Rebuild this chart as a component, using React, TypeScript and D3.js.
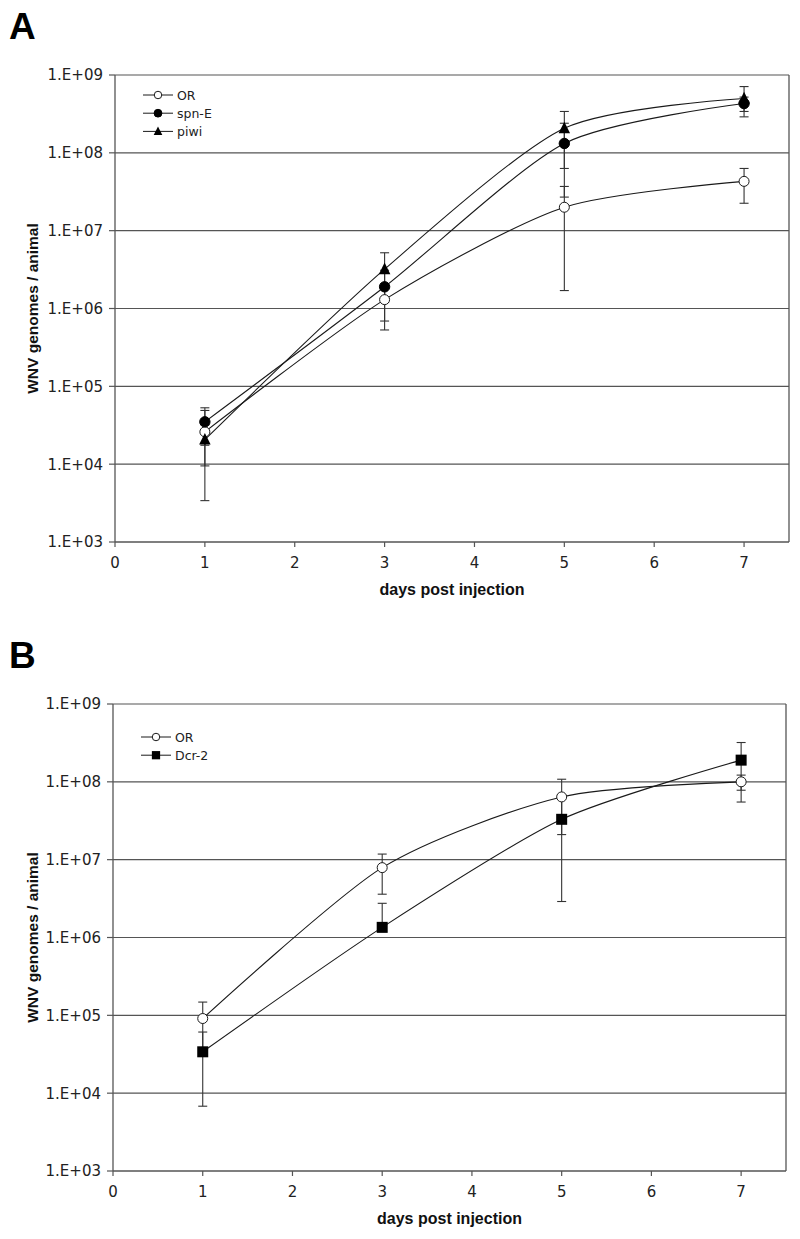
import React from "react";
import * as d3 from "d3";

const days = [1, 3, 5, 7];
const xTicks = [0, 1, 2, 3, 4, 5, 6, 7];
const yTicks = [1e3, 1e4, 1e5, 1e6, 1e7, 1e8, 1e9];
const yTickLabels = ["1.E+03", "1.E+04", "1.E+05", "1.E+06", "1.E+07", "1.E+08", "1.E+09"];

// Panel A
const orA = [2.6e4, 1.3e6, 2.0e7, 4.3e7];
const orALo = [3.4e3, 5.3e5, 1.7e6, 2.25e7];
const orAHi = [4.9e4, 2.07e6, 3.7e7, 6.3e7];
const spnE = [3.5e4, 1.9e6, 1.32e8, 4.3e8];
const spnELo = [1.75e4, 6.9e5, 2.7e7, 3.4e8];
const spnEHi = [5.3e4, 3.1e6, 2.4e8, 5.2e8];
const piwi = [2.07e4, 3.2e6, 2.07e8, 5.0e8];
const piwiLo = [9.5e3, 1.2e6, 6.3e7, 2.9e8];
const piwiHi = [3.2e4, 5.2e6, 3.4e8, 7.1e8];

// Panel B
const orB = [9.1e4, 7.9e6, 6.4e7, 1.0e8];
const orBLo = [3.4e4, 3.6e6, 2.1e7, 7.8e7];
const orBHi = [1.48e5, 1.18e7, 1.08e8, 1.22e8];
const dcr2 = [3.4e4, 1.35e6, 3.3e7, 1.9e8];
const dcr2Lo = [6.8e3, 1.35e6, 2.9e6, 5.5e7];
const dcr2Hi = [6.1e4, 2.75e6, 6.3e7, 3.2e8];

type Series = { name: string; marker: string; values: number[]; lo: number[]; hi: number[] };

const panelA: Series[] = [
  { name: "OR", marker: "openCircle", values: orA, lo: orALo, hi: orAHi },
  { name: "spn-E", marker: "circle", values: spnE, lo: spnELo, hi: spnEHi },
  { name: "piwi", marker: "triangle", values: piwi, lo: piwiLo, hi: piwiHi },
];
const panelB: Series[] = [
  { name: "OR", marker: "openCircle", values: orB, lo: orBLo, hi: orBHi },
  { name: "Dcr-2", marker: "square", values: dcr2, lo: dcr2Lo, hi: dcr2Hi },
];

const INK = "#1a1a1a";
const GRID = "#555";

function Marker({ type, x, y, s = 1 }: { type: string; x: number; y: number; s?: number }) {
  if (type === "openCircle")
    return <circle cx={x} cy={y} r={5 * s} fill="#fff" stroke={INK} strokeWidth={1} />;
  if (type === "circle") return <circle cx={x} cy={y} r={5.2 * s} fill="#000" stroke="#000" />;
  if (type === "square")
    return <rect x={x - 5.5 * s} y={y - 5.5 * s} width={11 * s} height={11 * s} fill="#000" />;
  const h = 11 * s;
  const w = 11.5 * s;
  return (
    <path
      d={`M${x},${y - h * 0.6}L${x + w / 2},${y + h * 0.45}L${x - w / 2},${y + h * 0.45}Z`}
      fill="#000"
    />
  );
}

function Panel({
  series,
  left,
  right,
  top,
  bottom,
  letter,
  letterY,
  legendY,
}: {
  series: Series[];
  left: number;
  right: number;
  top: number;
  bottom: number;
  letter: string;
  letterY: number;
  legendY: number;
}) {
  const x = d3.scaleLinear().domain([0, 7.5]).range([left, right]);
  const y = d3.scaleLog().domain([1e3, 1e9]).range([bottom, top]);
  const line = d3
    .line<number>()
    .x((_, i) => x(days[i]))
    .y((v) => y(v))
    .curve(d3.curveCardinal.tension(0.25));
  const font = "'DejaVu Sans', Verdana, sans-serif";
  const bold = "'Liberation Sans', Arial, sans-serif";
  return (
    <g>
      <text x={9} y={letterY} fontFamily={bold} fontWeight="bold" fontSize={37} fill="#000">
        {letter}
      </text>
      {yTicks.map((t, i) => (
        <g key={t}>
          {i > 0 && (
            <line x1={left} x2={right} y1={y(t)} y2={y(t)} stroke={GRID} strokeWidth={1.2} />
          )}
          <line x1={left - 6} x2={left} y1={y(t)} y2={y(t)} stroke={GRID} strokeWidth={1.2} />
          <text
            x={left - 12}
            y={y(t)}
            dy="0.36em"
            textAnchor="end"
            fontFamily={font}
            fontSize={15}
            fill="#222"
          >
            {yTickLabels[i]}
          </text>
        </g>
      ))}
      <line x1={left} x2={left} y1={top} y2={bottom} stroke={GRID} strokeWidth={1.3} />
      <line x1={right} x2={right} y1={top} y2={bottom} stroke={GRID} strokeWidth={1.3} />
      <line x1={left} x2={right} y1={bottom} y2={bottom} stroke={GRID} strokeWidth={1.3} />
      {xTicks.map((t) => (
        <g key={t}>
          <line x1={x(t)} x2={x(t)} y1={bottom} y2={bottom + 5} stroke={GRID} strokeWidth={1.2} />
          <text
            x={x(t)}
            y={bottom + 26}
            textAnchor="middle"
            fontFamily={font}
            fontSize={15}
            fill="#222"
          >
            {t}
          </text>
        </g>
      ))}
      <text
        x={(left + right) / 2}
        y={bottom + 53}
        textAnchor="middle"
        fontFamily={bold}
        fontWeight="bold"
        fontSize={16}
        fill="#111"
      >
        days post injection
      </text>
      <text
        transform={`translate(${38},${(top + bottom) / 2}) rotate(-90)`}
        textAnchor="middle"
        fontFamily={bold}
        fontWeight="bold"
        fontSize={15.5}
        fill="#111"
      >
        WNV genomes / animal
      </text>
      {series.map((s) =>
        s.values.map((v, i) => {
          const cx = x(days[i]);
          return (
            <g key={s.name + i} stroke="#333" strokeWidth={1.1}>
              <line x1={cx} x2={cx} y1={y(s.hi[i])} y2={y(s.lo[i])} />
              {s.hi[i] > v && <line x1={cx - 4.5} x2={cx + 4.5} y1={y(s.hi[i])} y2={y(s.hi[i])} />}
              {s.lo[i] < v && <line x1={cx - 4.5} x2={cx + 4.5} y1={y(s.lo[i])} y2={y(s.lo[i])} />}
            </g>
          );
        })
      )}
      {series.map((s) => (
        <path key={s.name} d={line(s.values) || ""} fill="none" stroke={INK} strokeWidth={1.1} />
      ))}
      {series.map((s) =>
        s.values.map((v, i) => <Marker key={s.name + i} type={s.marker} x={x(days[i])} y={y(v)} />)
      )}
      {series.map((s, i) => {
        const ly = legendY + i * 18.2;
        const lx = left + 28;
        return (
          <g key={s.name}>
            <line x1={lx} x2={lx + 30} y1={ly} y2={ly} stroke={INK} strokeWidth={1} />
            <Marker type={s.marker} x={lx + 15} y={ly} s={0.75} />
            <text x={lx + 34} y={ly} dy="0.36em" fontFamily={font} fontSize={12.5} fill="#222">
              {s.name}
            </text>
          </g>
        );
      })}
    </g>
  );
}

export default function App() {
  return (
    <svg width={800} height={1239} style={{ position: "absolute", left: 0, top: 0 }}>
      <rect width={800} height={1239} fill="#fff" />
      <Panel
        series={panelA}
        left={115}
        right={789}
        top={75}
        bottom={542}
        letter="A"
        letterY={39}
        legendY={95}
      />
      <Panel
        series={panelB}
        left={113}
        right={786}
        top={704}
        bottom={1171}
        letter="B"
        letterY={668}
        legendY={737}
      />
    </svg>
  );
}
